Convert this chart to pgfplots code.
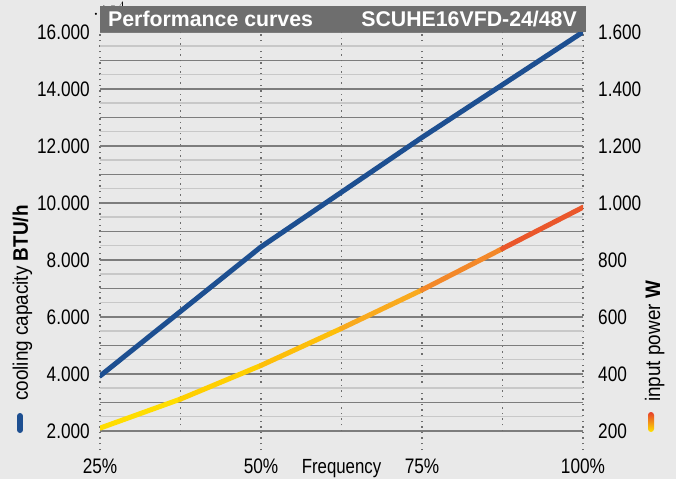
\documentclass[border=0pt]{standalone}
\usepackage{pgfplots}
\pgfplotsset{compat=1.18}
\usepackage{fontspec}
\setmainfont{Liberation Sans}
\newfontfamily\condfont{Liberation Sans}[FakeStretch=0.82]
\newfontfamily\labcondfont{Liberation Sans}[FakeStretch=0.9]
\definecolor{bg}{RGB}{233,233,233}
\definecolor{titlebar}{RGB}{110,110,110}
\definecolor{majgrid}{RGB}{125,125,125}
\definecolor{mingrid}{RGB}{200,200,200}
\definecolor{dotgrid}{RGB}{110,110,110}
\definecolor{blueline}{RGB}{29,79,145}
\definecolor{pyellow}{RGB}{255,228,0}
\definecolor{pred}{RGB}{230,64,44}
\newcommand{\tickfont}{\condfont\fontsize{21}{24}\selectfont}
\newcommand{\labfont}{\condfont\fontsize{20.5}{24}\selectfont}
\newcommand{\rotfont}{\labcondfont\fontsize{21}{24}\selectfont}
\pgfplotsset{
  base/.style={
    scale only axis, width=483pt, height=418pt,
    xmin=25, xmax=100,
    axis line style={draw=none},
    tick style={draw=none},
    at={(0,0)}, anchor=south west,
  }
}
\begin{document}
\begin{tikzpicture}
\path[fill=bg, use as bounding box] (-100pt,-29pt) rectangle (576pt,450pt);
\begin{axis}[base,
  ymin=1333, ymax=16000,
  xtick={25,50,75,100}, xticklabels={25\%,50\%,75\%,100\%},
  xticklabel style={font=\tickfont, anchor=base, yshift=-23pt, inner sep=0pt},
  ytick={2000,3000,...,16000},
  yticklabels={2.000,,4.000,,6.000,,8.000,,10.000,,12.000,,14.000,,16.000},
  yticklabel style={font=\tickfont, anchor=east, xshift=-10pt, inner sep=0pt},
  minor ytick={2500,3500,...,15500},
  xmajorgrids, ymajorgrids, yminorgrids,
  major x grid style={dotgrid, line width=1.6pt, dash pattern=on 1.4pt off 4.2pt},
  major y grid style={majgrid, line width=1.5pt},
  minor y grid style={mingrid, line width=1.5pt},
]
\draw[dotgrid, line width=1.6pt, dash pattern=on 1.4pt off 4.2pt] (axis cs:37.5,2000) -- (axis cs:37.5,16000);
\draw[dotgrid, line width=1.6pt, dash pattern=on 1.4pt off 4.2pt] (axis cs:62.5,2000) -- (axis cs:62.5,16000);
\draw[dotgrid, line width=1.6pt, dash pattern=on 1.4pt off 4.2pt] (axis cs:87.5,2000) -- (axis cs:87.5,16000);
\addplot[blueline, line width=5pt, line cap=round, line join=round] coordinates {(25,3930) (50,8460) (75,12300) (100,16000)};
\end{axis}
\begin{axis}[base,
  ymin=133.3, ymax=1600,
  xtick=\empty,
  ytick={200,400,...,1600},
  yticklabels={200,400,600,800,1.000,1.200,1.400,1.600},
  yticklabel pos=right,
  yticklabel style={font=\tickfont, anchor=west, xshift=15pt, inner sep=0pt},
  colormap={pw}{rgb255=(255,228,0) rgb255=(255,200,0) rgb255=(247,160,40) rgb255=(230,64,44)},
]
\addplot[mesh, point meta=x, line width=5pt, line cap=round] coordinates {(25,210) (37.5,312) (50,430) (62.5,560) (75,695) (87.5,840) (100,985)};
\end{axis}
\fill[titlebar] (0pt,418pt) rectangle (486pt,444pt);
\node[anchor=base west, text=white, font=\bfseries\fontsize{21.3}{24}\selectfont, inner sep=0pt] at (8pt,423pt) {Performance curves};
\node[anchor=base east, text=white, font=\bfseries\fontsize{21.3}{24}\selectfont, inner sep=0pt] at (477pt,423pt) {SCUHE16VFD-24/48V};
\node[anchor=base, font=\labfont, inner sep=0pt] at (241.5pt,-23pt) {Frequency};
\node[rotate=90, anchor=base west, font=\rotfont, inner sep=0pt] at (-72pt,49pt) {cooling capacity \textbf{BTU/h}};
\node[rotate=90, anchor=base west, font=\rotfont, inner sep=0pt] at (560pt,48pt) {input power \textbf{W}};
\draw[blueline, line width=6pt, line cap=round] (-80pt,20pt) -- (-80pt,34pt);
\shade[bottom color=pyellow, top color=pred, rounded corners=3pt] (548pt,18pt) rectangle (554pt,38pt);
\end{tikzpicture}
\end{document}
